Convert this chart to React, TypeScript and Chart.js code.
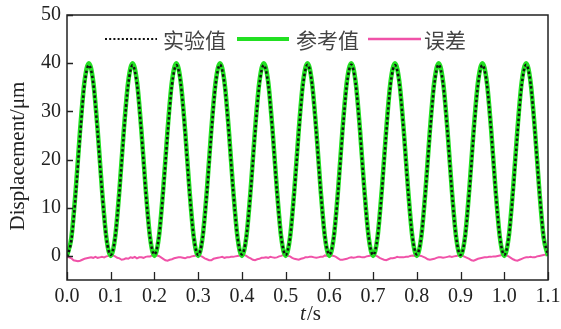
import React, { useEffect, useRef } from "react";
import { Chart, registerables } from "chart.js";

Chart.register(...registerables);

const tValues = [
  0, 0.01, 0.02, 0.03, 0.04, 0.05, 0.06, 0.07, 0.08, 0.09,
  0.1, 0.11, 0.12, 0.13, 0.14, 0.15, 0.16, 0.17, 0.18, 0.19,
  0.2, 0.21, 0.22, 0.23, 0.24, 0.25, 0.26, 0.27, 0.28, 0.29,
  0.3, 0.31, 0.32, 0.33, 0.34, 0.35, 0.36, 0.37, 0.38, 0.39,
  0.4, 0.41, 0.42, 0.43, 0.44, 0.45, 0.46, 0.47, 0.48, 0.49,
  0.5, 0.51, 0.52, 0.53, 0.54, 0.55, 0.56, 0.57, 0.58, 0.59,
  0.6, 0.61, 0.62, 0.63, 0.64, 0.65, 0.66, 0.67, 0.68, 0.69,
  0.7, 0.71, 0.72, 0.73, 0.74, 0.75, 0.76, 0.77, 0.78, 0.79,
  0.8, 0.81, 0.82, 0.83, 0.84, 0.85, 0.86, 0.87, 0.88, 0.89,
  0.9, 0.91, 0.92, 0.93, 0.94, 0.95, 0.96, 0.97, 0.98, 0.99,
  1.0, 1.01, 1.02, 1.03, 1.04, 1.05, 1.06, 1.07, 1.08, 1.09,
  1.1,
];

const referenceValues = [
  0, 3.82, 13.82, 26.18, 36.18, 40, 36.18, 26.18, 13.82, 3.82,
  0, 3.82, 13.82, 26.18, 36.18, 40, 36.18, 26.18, 13.82, 3.82,
  0, 3.82, 13.82, 26.18, 36.18, 40, 36.18, 26.18, 13.82, 3.82,
  0, 3.82, 13.82, 26.18, 36.18, 40, 36.18, 26.18, 13.82, 3.82,
  0, 3.82, 13.82, 26.18, 36.18, 40, 36.18, 26.18, 13.82, 3.82,
  0, 3.82, 13.82, 26.18, 36.18, 40, 36.18, 26.18, 13.82, 3.82,
  0, 3.82, 13.82, 26.18, 36.18, 40, 36.18, 26.18, 13.82, 3.82,
  0, 3.82, 13.82, 26.18, 36.18, 40, 36.18, 26.18, 13.82, 3.82,
  0, 3.82, 13.82, 26.18, 36.18, 40, 36.18, 26.18, 13.82, 3.82,
  0, 3.82, 13.82, 26.18, 36.18, 40, 36.18, 26.18, 13.82, 3.82,
  0, 3.82, 13.82, 26.18, 36.18, 40, 36.18, 26.18, 13.82, 3.82,
  0,
];

const experimentValues = [
  -0.2, 3.32, 12.82, 25.08, 35.58, 39.6, 35.88, 25.78, 13.52, 3.72,
  0.2, 3.72, 13.32, 25.38, 35.58, 39.6, 35.68, 25.88, 13.42, 3.72,
  0.3, 3.82, 13.22, 25.18, 35.48, 39.6, 35.88, 25.68, 13.52, 3.82,
  0.2, 3.62, 13.12, 25.28, 35.68, 39.7, 35.78, 25.88, 13.62, 3.82,
  0.3, 3.82, 13.32, 25.28, 35.58, 39.6, 35.78, 25.88, 13.52, 3.82,
  0.2, 3.72, 13.22, 25.38, 35.68, 39.7, 35.98, 25.78, 13.62, 3.92,
  0.3, 3.82, 13.32, 25.38, 35.58, 39.7, 35.88, 25.98, 13.52, 3.82,
  0.2, 3.72, 13.22, 25.28, 35.68, 39.6, 35.88, 25.88, 13.62, 3.92,
  0.3, 3.82, 13.42, 25.38, 35.58, 39.7, 35.78, 25.98, 13.62, 3.82,
  0.2, 3.62, 13.22, 25.18, 35.58, 39.6, 35.88, 25.98, 13.72, 3.92,
  0.2, 3.72, 13.12, 25.18, 35.58, 39.7, 35.98, 25.88, 13.82, 4.02,
  0.3,
];

const errorTimes = [
  0, 0.005, 0.01, 0.015, 0.02, 0.025, 0.03, 0.035, 0.04, 0.045, 0.05, 0.055, 0.06, 0.065, 0.07, 0.075, 0.08, 0.085, 0.09, 0.095,
  0.1, 0.105, 0.11, 0.115, 0.12, 0.125, 0.13, 0.135, 0.14, 0.145, 0.15, 0.155, 0.16, 0.165, 0.17, 0.175, 0.18, 0.185, 0.19, 0.195,
  0.2, 0.205, 0.21, 0.215, 0.22, 0.225, 0.23, 0.235, 0.24, 0.245, 0.25, 0.255, 0.26, 0.265, 0.27, 0.275, 0.28, 0.285, 0.29, 0.295,
  0.3, 0.305, 0.31, 0.315, 0.32, 0.325, 0.33, 0.335, 0.34, 0.345, 0.35, 0.355, 0.36, 0.365, 0.37, 0.375, 0.38, 0.385, 0.39, 0.395,
  0.4, 0.405, 0.41, 0.415, 0.42, 0.425, 0.43, 0.435, 0.44, 0.445, 0.45, 0.455, 0.46, 0.465, 0.47, 0.475, 0.48, 0.485, 0.49, 0.495,
  0.5, 0.505, 0.51, 0.515, 0.52, 0.525, 0.53, 0.535, 0.54, 0.545, 0.55, 0.555, 0.56, 0.565, 0.57, 0.575, 0.58, 0.585, 0.59, 0.595,
  0.6, 0.605, 0.61, 0.615, 0.62, 0.625, 0.63, 0.635, 0.64, 0.645, 0.65, 0.655, 0.66, 0.665, 0.67, 0.675, 0.68, 0.685, 0.69, 0.695,
  0.7, 0.705, 0.71, 0.715, 0.72, 0.725, 0.73, 0.735, 0.74, 0.745, 0.75, 0.755, 0.76, 0.765, 0.77, 0.775, 0.78, 0.785, 0.79, 0.795,
  0.8, 0.805, 0.81, 0.815, 0.82, 0.825, 0.83, 0.835, 0.84, 0.845, 0.85, 0.855, 0.86, 0.865, 0.87, 0.875, 0.88, 0.885, 0.89, 0.895,
  0.9, 0.905, 0.91, 0.915, 0.92, 0.925, 0.93, 0.935, 0.94, 0.945, 0.95, 0.955, 0.96, 0.965, 0.97, 0.975, 0.98, 0.985, 0.99, 0.995,
  1.0, 1.005, 1.01, 1.015, 1.02, 1.025, 1.03, 1.035, 1.04, 1.045, 1.05, 1.055, 1.06, 1.065, 1.07, 1.075, 1.08, 1.085, 1.09, 1.095,
  1.1,
];

const errorValues = [
  -0.2, -0.3, -0.5, -0.9, -1.0, -1.1, -1.0, -0.8, -0.6, -0.5, -0.4, -0.3, -0.4, -0.2, -0.4, -0.3, -0.2, -0.3, -0.1, 0.0,
  0.2, 0.1, -0.1, -0.4, -0.5, -0.8, -0.7, -0.5, -0.6, -0.3, -0.4, -0.2, -0.5, -0.3, -0.3, -0.4, -0.2, -0.1, -0.1, 0.1,
  0.3, 0.1, 0.0, -0.3, -0.6, -0.9, -1.0, -0.8, -0.7, -0.5, -0.4, -0.3, -0.3, -0.4, -0.5, -0.3, -0.3, -0.1, 0.0, 0.1,
  0.2, 0.0, -0.2, -0.5, -0.7, -0.9, -0.9, -0.6, -0.5, -0.4, -0.3, -0.2, -0.4, -0.3, -0.3, -0.2, -0.2, -0.1, 0.0, 0.1,
  0.3, 0.2, 0.0, -0.3, -0.5, -0.8, -0.9, -0.7, -0.6, -0.4, -0.4, -0.3, -0.4, -0.2, -0.3, -0.4, -0.3, -0.1, 0.0, 0.2,
  0.2, 0.0, -0.1, -0.4, -0.6, -0.7, -0.8, -0.6, -0.5, -0.3, -0.3, -0.2, -0.2, -0.3, -0.4, -0.3, -0.2, -0.2, 0.1, 0.0,
  0.3, 0.1, 0.0, -0.2, -0.5, -0.8, -0.8, -0.7, -0.6, -0.4, -0.3, -0.4, -0.3, -0.2, -0.2, -0.3, -0.3, -0.1, 0.0, 0.1,
  0.2, 0.1, -0.1, -0.4, -0.6, -0.8, -0.9, -0.7, -0.5, -0.5, -0.4, -0.2, -0.3, -0.3, -0.3, -0.2, -0.2, 0.0, 0.1, 0.0,
  0.3, 0.1, 0.0, -0.2, -0.4, -0.7, -0.8, -0.7, -0.6, -0.4, -0.3, -0.3, -0.4, -0.3, -0.2, -0.1, -0.2, -0.1, 0.0, 0.1,
  0.2, 0.0, -0.2, -0.4, -0.6, -0.9, -1.0, -0.8, -0.6, -0.5, -0.4, -0.3, -0.3, -0.2, -0.2, -0.1, -0.1, 0.0, 0.1, 0.2,
  0.2, 0.1, -0.1, -0.4, -0.7, -0.9, -1.0, -0.8, -0.6, -0.4, -0.3, -0.3, -0.2, -0.3, -0.3, -0.1, 0.0, 0.1, 0.2, 0.3,
  0.3,
];

const xTickValues = [0, 0.1, 0.2, 0.3, 0.4, 0.5, 0.6, 0.7, 0.8, 0.9, 1.0, 1.1];
const yTickValues = [0, 10, 20, 30, 40, 50];

const seriesNames = ["实验值", "参考值", "误差"];
const yAxisTitle = "Displacement/μm";
const xAxisTitleItalic = "t";
const xAxisTitleRest = "/s";

const GREEN = "#22e022";
const PINK = "#f052a8";
const BLACK = "#111111";
const AXIS = "#222222";
const SERIF = "'Liberation Serif', 'Times New Roman', serif";
const CJK = "'Noto Sans CJK SC', sans-serif";

const toPoints = (xs: number[], ys: number[]) => ys.map((y, i) => ({ x: xs[i], y }));

const decorPlugin = {
  id: "decor",
  afterDraw(chart: any) {
    const { ctx, chartArea } = chart;
    const xs = chart.scales.x;
    const ys = chart.scales.y;
    ctx.save();
    // frame
    ctx.strokeStyle = AXIS;
    ctx.lineWidth = 1.5;
    ctx.strokeRect(chartArea.left, chartArea.top, chartArea.right - chartArea.left, chartArea.bottom - chartArea.top);
    // inward tick marks
    ctx.lineWidth = 1.3;
    ctx.beginPath();
    xTickValues.forEach((v) => {
      const px = Math.round(xs.getPixelForValue(v)) + 0.5;
      ctx.moveTo(px, chartArea.bottom);
      ctx.lineTo(px, chartArea.bottom - 8);
    });
    yTickValues.forEach((v) => {
      const py = Math.round(ys.getPixelForValue(v)) + 0.5;
      ctx.moveTo(chartArea.left, py);
      ctx.lineTo(chartArea.left + 6, py);
    });
    ctx.stroke();

    // y-axis title
    ctx.fillStyle = AXIS;
    ctx.font = `21px ${SERIF}`;
    ctx.textAlign = "center";
    ctx.textBaseline = "middle";
    ctx.save();
    ctx.translate(18, 156);
    ctx.rotate(-Math.PI / 2);
    ctx.fillText(yAxisTitle, 0, 0);
    ctx.restore();

    // x-axis title: italic t + /s
    ctx.textAlign = "left";
    ctx.font = `italic 21px ${SERIF}`;
    const wT = ctx.measureText(xAxisTitleItalic).width;
    ctx.font = `21px ${SERIF}`;
    const wR = ctx.measureText(xAxisTitleRest).width;
    const cx = 310;
    const startX = cx - (wT + wR) / 2;
    const ty = 314;
    ctx.font = `italic 21px ${SERIF}`;
    ctx.fillText(xAxisTitleItalic, startX, ty);
    ctx.font = `21px ${SERIF}`;
    ctx.fillText(xAxisTitleRest, startX + wT + 1, ty);

    // legend
    const ly = 39;
    const items = [
      { x0: 105, x1: 157, tx: 163, color: BLACK, width: 2, dash: [2, 2.2] },
      { x0: 237, x1: 289, tx: 296, color: GREEN, width: 4, dash: [] },
      { x0: 368, x1: 421, tx: 424, color: PINK, width: 2.5, dash: [] },
    ];
    items.forEach((it, i) => {
      ctx.save();
      ctx.strokeStyle = it.color;
      ctx.lineWidth = it.width;
      ctx.setLineDash(it.dash);
      ctx.beginPath();
      ctx.moveTo(it.x0, ly);
      ctx.lineTo(it.x1, ly);
      ctx.stroke();
      ctx.restore();
      ctx.fillStyle = "#444444";
      ctx.font = `21px ${CJK}`;
      ctx.textAlign = "left";
      ctx.textBaseline = "middle";
      ctx.fillText(seriesNames[i], it.tx, ly + 1);
    });
    ctx.restore();
  },
};

export default function App() {
  const canvasRef = useRef<HTMLCanvasElement | null>(null);

  useEffect(() => {
    document.body.style.margin = "0";
    const canvas = canvasRef.current;
    if (!canvas) return;
    const chart = new Chart(canvas, {
      type: "line",
      data: {
        datasets: [
          {
            label: seriesNames[2],
            data: toPoints(errorTimes, errorValues),
            borderColor: PINK,
            borderWidth: 2,
            pointRadius: 0,
            tension: 0,
            order: 3,
          },
          {
            label: seriesNames[1],
            data: toPoints(tValues, referenceValues),
            borderColor: GREEN,
            borderWidth: 4.5,
            pointRadius: 0,
            cubicInterpolationMode: "monotone",
            order: 2,
          },
          {
            label: seriesNames[0],
            data: toPoints(tValues, experimentValues),
            borderColor: BLACK,
            borderWidth: 2.5,
            borderDash: [2.5, 2.5],
            pointRadius: 0,
            cubicInterpolationMode: "monotone",
            order: 1,
          },
        ],
      },
      options: {
        responsive: false,
        animation: false,
        events: [],
        layout: { padding: { left: 0, right: 13, top: 15, bottom: 0 } },
        plugins: {
          legend: { display: false },
          tooltip: { enabled: false },
          title: { display: false },
        },
        scales: {
          x: {
            type: "linear",
            min: 0,
            max: 1.1,
            grid: { display: false, drawTicks: false },
            border: { display: false },
            afterBuildTicks: (scale: any) => {
              scale.ticks = xTickValues.map((v) => ({ value: v }));
            },
            afterFit: (scale: any) => {
              scale.height = 49;
              scale.paddingLeft = 0;
              scale.paddingRight = 0;
            },
            ticks: {
              color: AXIS,
              font: { family: SERIF, size: 20 },
              padding: 5,
              maxRotation: 0,
              autoSkip: false,
              callback: (v: any) => Number(v).toFixed(1),
            },
          },
          y: {
            type: "linear",
            min: -5,
            max: 50,
            grid: { display: false, drawTicks: false },
            border: { display: false },
            afterBuildTicks: (scale: any) => {
              scale.ticks = yTickValues.map((v) => ({ value: v }));
            },
            afterFit: (scale: any) => {
              scale.width = 67;
              scale.paddingTop = 0;
              scale.paddingBottom = 0;
            },
            ticks: {
              color: AXIS,
              font: { family: SERIF, size: 20 },
              padding: 6,
              autoSkip: false,
              callback: (v: any) => String(v),
            },
          },
        },
      },
      plugins: [decorPlugin],
    });
    return () => chart.destroy();
  }, []);

  return (
    <div style={{ position: "absolute", left: 0, top: 0, width: 561, height: 329, background: "#fff" }}>
      <canvas ref={canvasRef} width={561} height={329} />
    </div>
  );
}
